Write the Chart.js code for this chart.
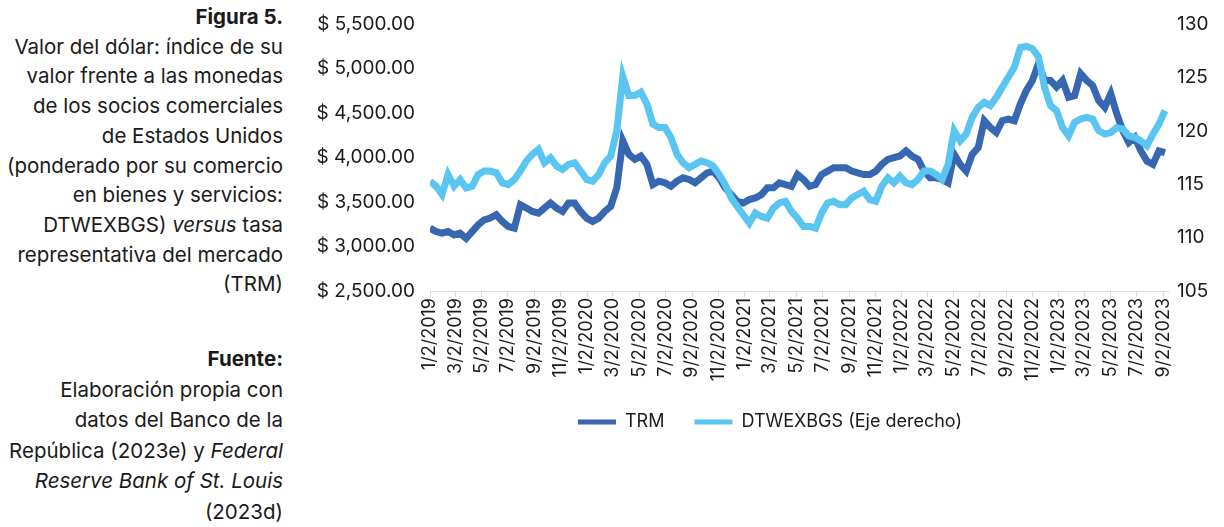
<!DOCTYPE html>
<html lang="es">
<head>
<meta charset="UTF-8">
<title>Figura 5 — TRM y DTWEXBGS</title>
<script src="https://cdn.jsdelivr.net/npm/chart.js"></script>
<style>
    * {
    margin: 0;
    padding: 0;
    box-sizing: border-box;
    }

    html, body {
    width: 1224px;
    height: 527px;
    overflow: hidden;
    background: #fff;
    }

    body {
    font-family: 'Inter', sans-serif;
    color: #1a1a1a;
    position: relative;
    }

    .caption {
    position: absolute;
    left: 0;
    width: 283px;
    text-align: right;
    font-size: 20.5px;
    line-height: 29.7px;
    }

    .caption b {
    font-weight: 700;
    }

    #fig {
    top: 2px;
    }

    #src {
    top: 344px;
    line-height: 30.5px;
    }

    #chart {
    position: absolute;
    left: 316px;
    top: 0;
    }
</style>
</head>
<body>

<div class="caption" id="fig">
    <b>Figura 5.</b><br>
    Valor del dólar: índice de su<br>
    valor frente a las monedas<br>
    de los socios comerciales<br>
    de Estados Unidos<br>
    (ponderado por su comercio<br>
    en bienes y servicios:<br>
    DTWEXBGS) <i>versus</i> tasa<br>
    representativa del mercado<br>
    (TRM)
</div>

<div class="caption" id="src">
    <b>Fuente:</b><br>
    Elaboración propia con<br>
    datos del Banco de la<br>
    República (2023e) y <i>Federal</i><br>
    <i>Reserve Bank of St. Louis</i><br>
    (2023d)
</div>

<canvas id="chart" width="908" height="443"></canvas>

<script>
    // one observation every 14 days, starting 2 Jan 2019
    const START = Date.UTC(2019, 0, 2);
    const STEP_DAYS = 14;

    // TRM, pesos por dólar (eje izquierdo)
    const trm = [
        3206, 3168, 3149, 3168, 3130, 3149, 3092, 3168, 3243, 3300,
        3319, 3357, 3281, 3225, 3206, 3470, 3432, 3394, 3375, 3432,
        3489, 3432, 3394, 3489, 3489, 3394, 3319, 3281, 3319, 3394,
        3451, 3659, 4187, 4036, 3979, 4017, 3923, 3696, 3734, 3715,
        3677, 3734, 3772, 3753, 3715, 3772, 3828, 3847, 3772, 3659,
        3583, 3508, 3489, 3527, 3545, 3583, 3659, 3659, 3715, 3696,
        3677, 3809, 3753, 3677, 3696, 3809, 3847, 3885, 3885, 3885,
        3847, 3828, 3809, 3809, 3847, 3923, 3979, 3998, 4017, 4074,
        4017, 3979, 3847, 3772, 3772, 3753, 3715, 4036, 3923, 3847,
        4036, 4111, 4413, 4338, 4281, 4413, 4432, 4413, 4602, 4753,
        4866, 5055, 4866, 4866, 4791, 4866, 4677, 4696, 4942, 4866,
        4809, 4640, 4564, 4715, 4489, 4300, 4168, 4225, 4074, 3960,
        3923, 4074, 4055
    ];

    // DTWEXBGS, índice (eje derecho)
    const dtwexbgs = [
        115.28, 114.81, 114.03, 115.91, 114.81, 115.44, 114.65, 114.81, 115.91, 116.23,
        116.23, 116.07, 115.13, 114.97, 115.44, 116.23, 117.17, 117.80, 118.27, 117.01,
        117.48, 116.70, 116.38, 116.86, 117.01, 116.23, 115.44, 115.28, 115.91, 117.01,
        117.64, 120.00, 125.10, 123.30, 123.30, 123.62, 122.52, 120.63, 120.31, 120.31,
        119.37, 117.80, 117.01, 116.54, 116.86, 117.17, 117.01, 116.70, 115.91, 114.97,
        113.71, 112.92, 112.14, 111.35, 112.30, 111.98, 111.82, 112.77, 113.24, 113.40,
        112.45, 111.82, 111.04, 111.04, 110.88, 112.30, 113.24, 113.40, 113.08, 113.08,
        113.71, 114.03, 114.34, 113.55, 113.40, 114.81, 115.60, 115.13, 115.76, 115.13,
        114.97, 115.44, 116.23, 116.23, 115.91, 115.44, 116.86, 120.00, 119.06, 119.69,
        121.26, 122.20, 122.67, 122.36, 123.14, 124.09, 125.03, 125.97, 127.80, 127.90,
        127.70, 126.92, 124.09, 122.36, 121.89, 120.31, 119.53, 120.79, 121.10, 121.26,
        121.10, 120.00, 119.69, 119.84, 120.31, 120.16, 119.53, 119.37, 119.06, 118.59,
        119.69, 120.63, 121.89
    ];

    const tickLabels = [
        '1/2/2019', '3/2/2019', '5/2/2019', '7/2/2019', '9/2/2019', '11/2/2019',
        '1/2/2020', '3/2/2020', '5/2/2020', '7/2/2020', '9/2/2020', '11/2/2020',
        '1/2/2021', '3/2/2021', '5/2/2021', '7/2/2021', '9/2/2021', '11/2/2021',
        '1/2/2022', '3/2/2022', '5/2/2022', '7/2/2022', '9/2/2022', '11/2/2022',
        '1/2/2023', '3/2/2023', '5/2/2023', '7/2/2023', '9/2/2023'
    ];

    const DARK = '#3767b1';
    const LIGHT = '#5bc5f1';
    const INK = '#1a1a1a';

    function dayOf(label) {
        const [m, d, y] = label.split('/').map(Number);
        return Math.round((Date.UTC(y, m - 1, d) - START) / 86400000);
    }

    const tickDays = tickLabels.map(dayOf);
    const toPoints = arr => arr.map((v, i) => ({ x: i * STEP_DAYS, y: v }));

    const money = v => '$ ' + v.toLocaleString('en-US', { minimumFractionDigits: 2, maximumFractionDigits: 2 });

    const ctx = document.getElementById('chart').getContext('2d');
    new Chart(ctx, {
        type: 'line',
        data: {
            datasets: [{
                label: 'TRM',
                data: toPoints(trm),
                yAxisID: 'y',
                borderColor: DARK,
                backgroundColor: DARK,
                borderWidth: 7,
                pointRadius: 0,
                tension: 0,
                order: 2
            }, {
                label: 'DTWEXBGS (Eje derecho)',
                data: toPoints(dtwexbgs),
                yAxisID: 'y1',
                borderColor: LIGHT,
                backgroundColor: LIGHT,
                borderWidth: 7,
                pointRadius: 0,
                tension: 0,
                order: 1
            }]
        },
        options: {
            responsive: false,
            animation: false,
            layout: { padding: { top: 24, right: 0, bottom: 2, left: 0 } },
            plugins: {
                tooltip: { enabled: false },
                legend: {
                    position: 'bottom',
                    labels: {
                        color: INK,
                        font: { family: 'Inter', size: 18 },
                        boxWidth: 38,
                        boxHeight: 5,
                        padding: 30,
                        generateLabels: chart => chart.data.datasets.map((ds, i) => ({
                            text: ds.label,
                            fillStyle: ds.borderColor,
                            strokeStyle: ds.borderColor,
                            lineWidth: 0,
                            fontColor: INK,
                            datasetIndex: i
                        }))
                    }
                }
            },
            scales: {
                x: {
                    type: 'linear',
                    min: 0,
                    max: 1715,
                    afterBuildTicks: scale => {
                        scale.ticks = tickDays.map(v => ({ value: v }));
                    },
                    afterFit: scale => { scale.height = 92; },
                    ticks: {
                        autoSkip: false,
                        minRotation: 90,
                        maxRotation: 90,
                        padding: 1,
                        color: INK,
                        font: { family: 'Inter', size: 18 },
                        callback: v => tickLabels[tickDays.indexOf(v)]
                    },
                    grid: {
                        display: true,
                        drawOnChartArea: false,
                        drawTicks: true,
                        tickLength: 6,
                        color: '#d9d9d9'
                    },
                    border: { display: true, color: '#d9d9d9', width: 1 }
                },
                y: {
                    position: 'left',
                    min: 2500,
                    max: 5500,
                    afterFit: scale => { scale.width = 114; },
                    ticks: {
                        stepSize: 500,
                        padding: 7,
                        color: INK,
                        font: { family: 'Inter', size: 19 },
                        callback: v => money(v)
                    },
                    grid: { display: false },
                    border: { display: false }
                },
                y1: {
                    position: 'right',
                    min: 105,
                    max: 130,
                    afterFit: scale => { scale.width = 56; },
                    ticks: {
                        stepSize: 5,
                        padding: 1,
                        color: INK,
                        font: { family: 'Inter', size: 19 }
                    },
                    grid: { display: false },
                    border: { display: false }
                }
            }
        }
    });
</script>
</body>
</html>
